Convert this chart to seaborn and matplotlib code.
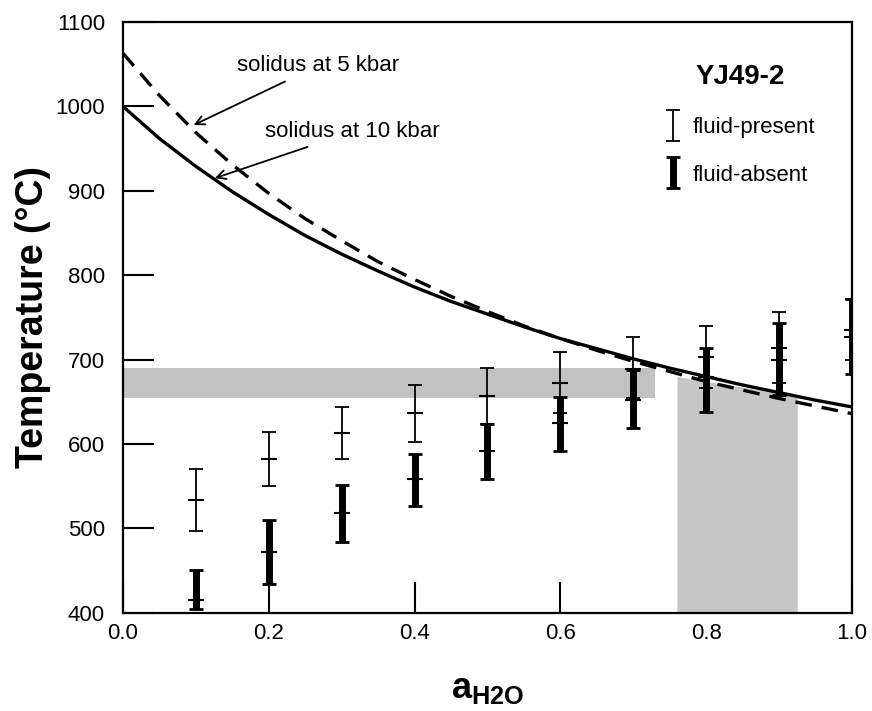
import numpy as np
import pandas as pd
import matplotlib
matplotlib.use('Agg')
import matplotlib.pyplot as plt
from matplotlib.container import ErrorbarContainer
from matplotlib.legend_handler import HandlerErrorbar
import seaborn as sns

# solidus curves
sol_x = [0.0, 0.05, 0.1, 0.15, 0.2, 0.25, 0.3, 0.35, 0.4, 0.45, 0.5,
         0.55, 0.6, 0.65, 0.7, 0.75, 0.8, 0.85, 0.9, 0.95, 1.0]
sol10_t = [1000, 962, 929, 899, 872, 847, 825, 805, 786, 769, 754,
           739, 725, 713, 701, 690, 680, 670, 661, 652, 644]
sol5_t = [1063, 1013, 969, 931, 897, 867, 841, 816, 795, 775, 757,
          740, 725, 711, 698, 686, 674, 664, 654, 645, 636]

# error bars
aw = [0.1, 0.2, 0.3, 0.4, 0.5, 0.6, 0.7, 0.8, 0.9, 1.0]
present_mid = [534, 582, 613, 637, 657, 672, 689, 703, 714, 735]
present_lo = [497, 550, 582, 602, 624, 637, 655, 667, 672, 700]
present_hi = [570, 614, 644, 670, 690, 709, 727, 740, 756, 772]
absent_mid = [415, 472, 518, 559, 592, 625, 652, 679, 700, 727]
absent_lo = [405, 434, 484, 527, 559, 592, 619, 638, 658, 683]
absent_hi = [451, 510, 551, 588, 624, 656, 688, 714, 743, 772]

# shaded bands
hband_x = [0.0, 0.73]
hband_lo = 655
hband_hi = 690
vband_x = [0.76, 0.925]
vband_top = [680, 657]

sns.set_style('ticks')
plt.rcParams['font.family'] = ['Liberation Sans', 'DejaVu Sans']
plt.rcParams['mathtext.fontset'] = 'custom'
plt.rcParams['mathtext.rm'] = 'Liberation Sans'
plt.rcParams['mathtext.bf'] = 'Liberation Sans:bold'
for k in ['text.color', 'axes.labelcolor', 'xtick.color', 'ytick.color', 'axes.edgecolor']:
    plt.rcParams[k] = 'black'

fig, ax = plt.subplots(figsize=(8.72, 7.11), dpi=100)
fig.subplots_adjust(left=0.141, right=0.977, top=0.969, bottom=0.138)

ax.fill_between(hband_x, hband_lo, hband_hi, color='#c2c2c2', lw=0, zorder=1)
ax.fill_between(vband_x, 400, vband_top, color='#c6c6c6', lw=0, zorder=1)

sol = pd.DataFrame({'a': sol_x, 'T10': sol10_t, 'T5': sol5_t})
sns.lineplot(data=sol, x='a', y='T10', color='black', lw=2.4, ax=ax, zorder=3)
sns.lineplot(data=sol, x='a', y='T5', color='black', lw=2.4, ax=ax, zorder=3,
             dashes=False, linestyle=(0, (5, 3)))

aw_arr = np.array(aw)
pm, pl, ph = map(np.array, (present_mid, present_lo, present_hi))
am, al, ah = map(np.array, (absent_mid, absent_lo, absent_hi))

h1 = ax.errorbar(aw_arr, pm, yerr=[pm - pl, ph - pm], fmt='none', ecolor='black',
                 elinewidth=1.3, capsize=5, capthick=1.3, zorder=4, label='fluid-present')
h2 = ax.errorbar(aw_arr, am, yerr=[am - al, ah - am], fmt='none', ecolor='black',
                 elinewidth=5, capsize=5, capthick=2, zorder=4, label='fluid-absent')
ax.plot(aw_arr, pm, ls='none', marker='_', ms=11, mew=1.5, color='black', zorder=5)
ax.plot(aw_arr, am, ls='none', marker='_', ms=12, mew=1.5, color='black', zorder=5)

ax.annotate('solidus at 5 kbar', xy=(0.097, 978), xytext=(0.156, 1048),
            fontsize=16, va='center', ha='left',
            arrowprops=dict(arrowstyle='->', color='black', lw=1.3, shrinkA=3, shrinkB=0))
ax.annotate('solidus at 10 kbar', xy=(0.126, 915), xytext=(0.195, 970),
            fontsize=16, va='center', ha='left',
            arrowprops=dict(arrowstyle='->', color='black', lw=1.3, shrinkA=3, shrinkB=0))

leg = ax.legend(handles=[h1, h2], loc='upper left', bbox_to_anchor=(0.723, 0.955),
                frameon=False, fontsize=16, title='YJ49-2',
                title_fontproperties={'weight': 'bold', 'size': 20},
                handlelength=0.7, handletextpad=0.5, labelspacing=1.2, borderpad=0.2,
                handler_map={ErrorbarContainer: HandlerErrorbar(xerr_size=0.7)})

ax.set_xlim(0, 1.0)
ax.set_ylim(400, 1100)
ax.set_xticks([0.0, 0.2, 0.4, 0.6, 0.8, 1.0])
ax.set_yticks(range(400, 1101, 100))
ax.tick_params(direction='in', length=22, width=1.5, labelsize=16, color='black')
ax.tick_params(axis='y', pad=13)
ax.tick_params(axis='x', pad=7)
for s in ax.spines.values():
    s.set_visible(True)
    s.set_linewidth(1.6)
    s.set_color('black')

ax.set_xlabel(r'$\mathbf{a_{H2O}}$', fontsize=26, labelpad=20)
ax.set_ylabel('Temperature (°C)', fontsize=27, fontweight='bold', labelpad=3)

fig.savefig('out.png', dpi=100)
